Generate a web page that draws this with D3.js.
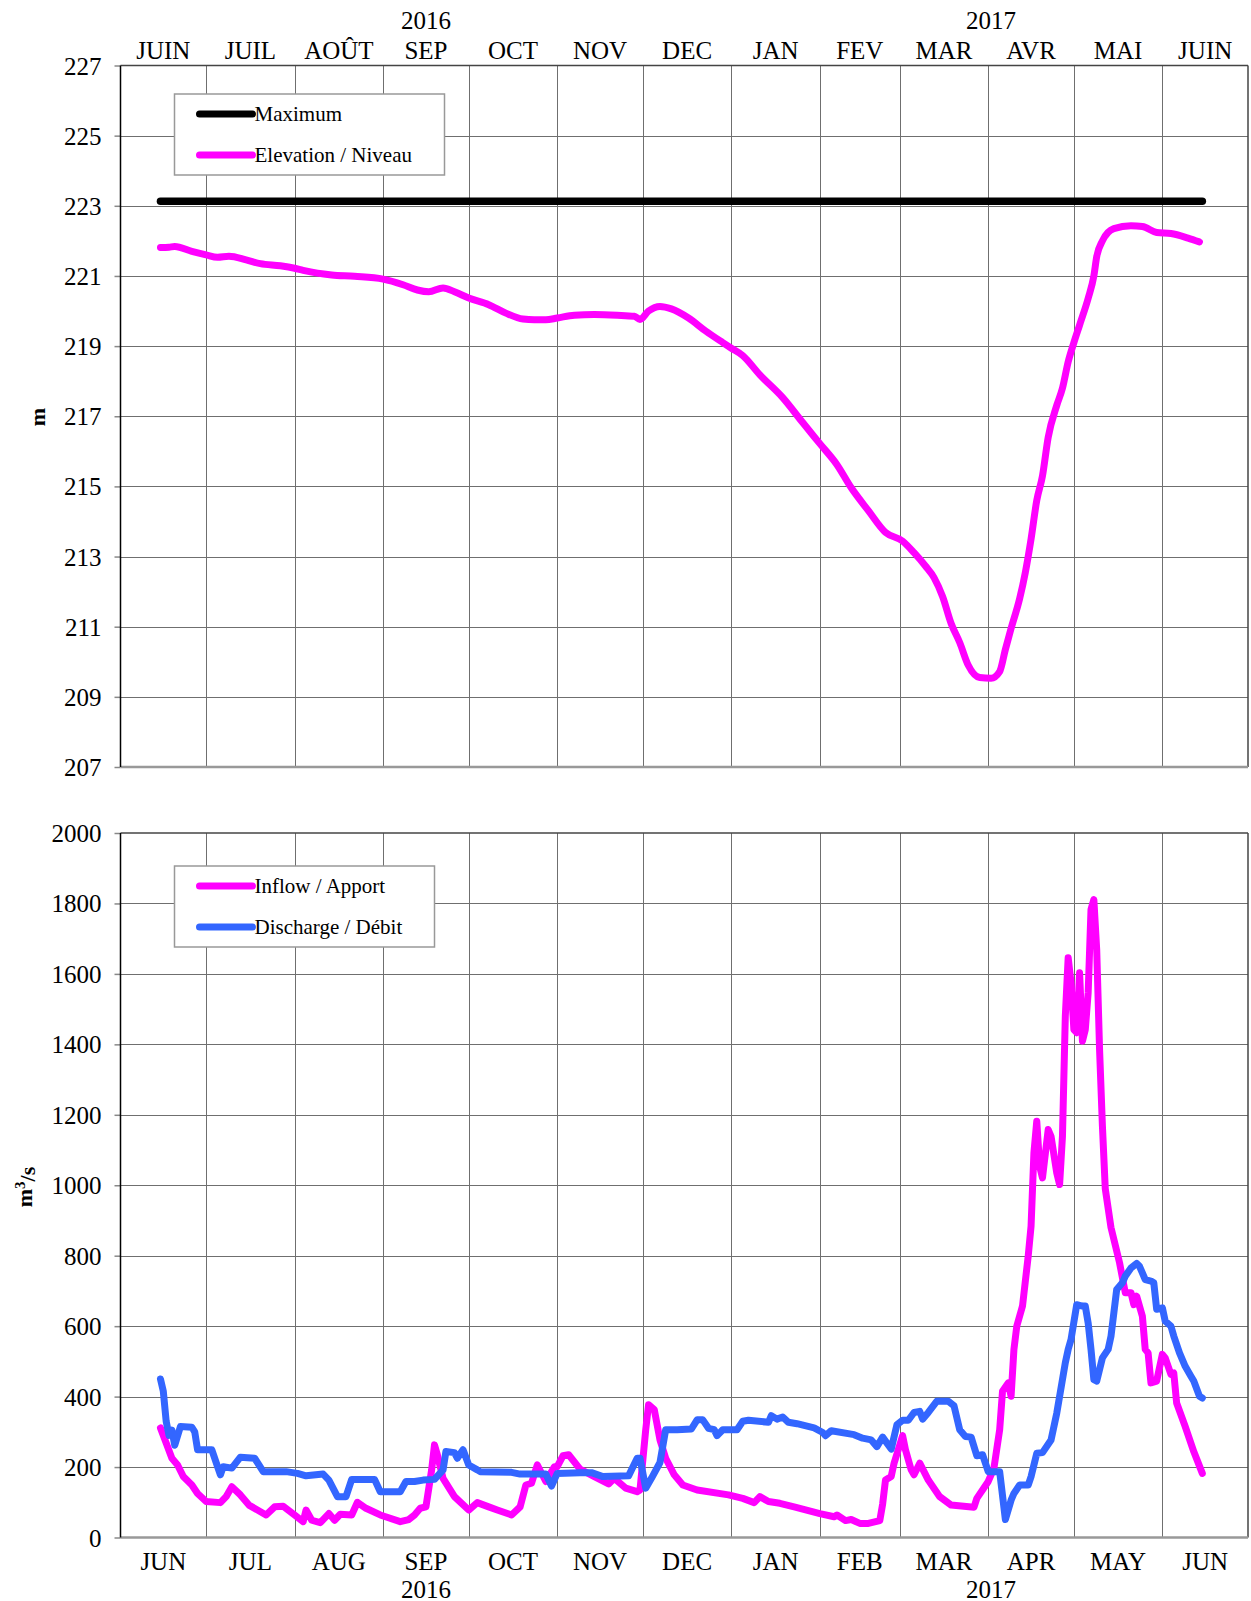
<!DOCTYPE html>
<html>
<head>
<meta charset="utf-8">
<script src="https://cdn.jsdelivr.net/npm/d3@7"></script>
<style>
  body { margin: 0; background: #fff; }
  text { font-family: "Liberation Serif", "Times New Roman", serif; fill: #000; }
</style>
</head>
<body>
<script>
// Month labels (top panel in French, bottom panel in English)
const topMonths = ["JUIN", "JUIL", "AOÛT", "SEP", "OCT", "NOV", "DEC", "JAN", "FEV", "MAR", "AVR", "MAI", "JUIN"];
const bottomMonths = ["JUN", "JUL", "AUG", "SEP", "OCT", "NOV", "DEC", "JAN", "FEB", "MAR", "APR", "MAY", "JUN"];
const yearLabels = ["2016", "2017"];
const yearLabelDates = ["2016-09-16", "2017-04-02"];

const elevTicks = [207, 209, 211, 213, 215, 217, 219, 221, 223, 225, 227];
const flowTicks = [0, 200, 400, 600, 800, 1000, 1200, 1400, 1600, 1800, 2000];

// Maximum level (m)
const maximum = [["2016-06-15", 223.13], ["2017-06-15", 223.13]];

// Elevation / Niveau (m)
const elevation = [
  ["2016-06-15", 221.81], ["2016-06-18", 221.82], ["2016-06-20", 221.84], ["2016-06-26", 221.70],
  ["2016-07-01", 221.60], ["2016-07-05", 221.53], ["2016-07-09", 221.56], ["2016-07-15", 221.46],
  ["2016-07-20", 221.35], ["2016-07-27", 221.29], ["2016-08-01", 221.22], ["2016-08-04", 221.16],
  ["2016-08-09", 221.08], ["2016-08-14", 221.03], ["2016-08-22", 220.99], ["2016-09-01", 220.91],
  ["2016-09-08", 220.75], ["2016-09-13", 220.60], ["2016-09-17", 220.55], ["2016-09-22", 220.66],
  ["2016-09-26", 220.55], ["2016-10-01", 220.37], ["2016-10-08", 220.18], ["2016-10-14", 219.94],
  ["2016-10-20", 219.77], ["2016-10-24", 219.75], ["2016-10-28", 219.75], ["2016-11-01", 219.80],
  ["2016-11-07", 219.88], ["2016-11-14", 219.90], ["2016-11-22", 219.88], ["2016-11-28", 219.85],
  ["2016-11-30", 219.76], ["2016-12-03", 220.00], ["2016-12-07", 220.13], ["2016-12-11", 220.06],
  ["2016-12-17", 219.80], ["2016-12-23", 219.43], ["2016-12-29", 219.10], ["2017-01-01", 218.94],
  ["2017-01-05", 218.73], ["2017-01-11", 218.18], ["2017-01-19", 217.53], ["2017-01-26", 216.82],
  ["2017-02-01", 216.22], ["2017-02-07", 215.62], ["2017-02-12", 214.96], ["2017-02-18", 214.31],
  ["2017-02-24", 213.69], ["2017-03-02", 213.44], ["2017-03-06", 213.11], ["2017-03-10", 212.73],
  ["2017-03-13", 212.40], ["2017-03-16", 211.86], ["2017-03-19", 211.09], ["2017-03-22", 210.55],
  ["2017-03-25", 209.90], ["2017-03-29", 209.55], ["2017-04-02", 209.53], ["2017-04-05", 209.72],
  ["2017-04-07", 210.35], ["2017-04-09", 210.95], ["2017-04-12", 211.80], ["2017-04-14", 212.55],
  ["2017-04-16", 213.50], ["2017-04-18", 214.60], ["2017-04-20", 215.30], ["2017-04-22", 216.40],
  ["2017-04-25", 217.31], ["2017-04-27", 217.80], ["2017-04-29", 218.55], ["2017-05-01", 219.10],
  ["2017-05-03", 219.60], ["2017-05-06", 220.36], ["2017-05-08", 221.00], ["2017-05-09", 221.55],
  ["2017-05-11", 222.00], ["2017-05-15", 222.35], ["2017-05-21", 222.43], ["2017-05-25", 222.41],
  ["2017-05-30", 222.24], ["2017-06-04", 222.21], ["2017-06-10", 222.08], ["2017-06-14", 221.97]
];

// Inflow / Apport (m3/s)
const inflow = [
  ["2016-06-15", 311], ["2016-06-17", 268], ["2016-06-19", 225], ["2016-06-21", 206], ["2016-06-23", 173],
  ["2016-06-26", 149], ["2016-06-28", 125], ["2016-07-01", 102], ["2016-07-06", 99], ["2016-07-08", 116],
  ["2016-07-10", 144], ["2016-07-13", 121], ["2016-07-16", 92], ["2016-07-22", 64], ["2016-07-25", 87],
  ["2016-07-28", 89], ["2016-08-01", 64], ["2016-08-04", 45], ["2016-08-05", 78], ["2016-08-07", 49],
  ["2016-08-10", 42], ["2016-08-13", 68], ["2016-08-15", 49], ["2016-08-17", 66], ["2016-08-21", 64],
  ["2016-08-23", 100], ["2016-08-26", 83], ["2016-08-31", 64], ["2016-09-07", 45], ["2016-09-10", 51],
  ["2016-09-12", 64], ["2016-09-14", 83], ["2016-09-16", 87], ["2016-09-18", 192], ["2016-09-19", 263],
  ["2016-09-20", 235], ["2016-09-22", 168], ["2016-09-26", 116], ["2016-10-01", 78], ["2016-10-04", 99],
  ["2016-10-08", 87], ["2016-10-11", 78], ["2016-10-16", 64], ["2016-10-19", 87], ["2016-10-21", 149],
  ["2016-10-23", 154], ["2016-10-25", 206], ["2016-10-28", 159], ["2016-10-31", 201], ["2016-11-01", 201],
  ["2016-11-03", 232], ["2016-11-05", 235], ["2016-11-09", 194], ["2016-11-14", 173], ["2016-11-19", 152],
  ["2016-11-21", 168], ["2016-11-25", 140], ["2016-11-29", 130], ["2016-11-30", 135], ["2016-12-02", 306],
  ["2016-12-03", 377], ["2016-12-05", 363], ["2016-12-07", 277], ["2016-12-09", 225], ["2016-12-12", 178],
  ["2016-12-15", 149], ["2016-12-20", 135], ["2016-12-31", 121], ["2017-01-05", 111], ["2017-01-09", 99],
  ["2017-01-11", 116], ["2017-01-14", 102], ["2017-01-18", 97], ["2017-01-23", 87], ["2017-02-01", 68],
  ["2017-02-06", 59], ["2017-02-07", 64], ["2017-02-10", 48], ["2017-02-12", 51], ["2017-02-15", 40],
  ["2017-02-18", 40], ["2017-02-22", 48], ["2017-02-23", 95], ["2017-02-24", 163], ["2017-02-26", 173],
  ["2017-02-27", 211], ["2017-03-02", 289], ["2017-03-03", 249], ["2017-03-05", 192], ["2017-03-06", 178],
  ["2017-03-08", 211], ["2017-03-11", 163], ["2017-03-15", 116], ["2017-03-19", 92], ["2017-03-27", 86],
  ["2017-03-28", 111], ["2017-04-01", 159], ["2017-04-03", 197], ["2017-04-05", 306], ["2017-04-06", 415],
  ["2017-04-08", 439], ["2017-04-09", 401], ["2017-04-10", 534], ["2017-04-11", 600], ["2017-04-13", 657],
  ["2017-04-15", 799], ["2017-04-16", 884], ["2017-04-17", 1092], ["2017-04-18", 1182], ["2017-04-19", 1054],
  ["2017-04-20", 1021], ["2017-04-22", 1158], ["2017-04-23", 1139], ["2017-04-25", 1035], ["2017-04-26", 1002],
  ["2017-04-27", 1139], ["2017-04-28", 1480], ["2017-04-29", 1646], ["2017-04-30", 1575], ["2017-05-01", 1442],
  ["2017-05-02", 1433], ["2017-05-03", 1603], ["2017-05-04", 1409], ["2017-05-05", 1442], ["2017-05-06", 1546],
  ["2017-05-07", 1783], ["2017-05-08", 1811], ["2017-05-09", 1669], ["2017-05-10", 1385], ["2017-05-11", 1168],
  ["2017-05-12", 990], ["2017-05-14", 880], ["2017-05-17", 780], ["2017-05-19", 695], ["2017-05-21", 695],
  ["2017-05-22", 661], ["2017-05-23", 685], ["2017-05-25", 628], ["2017-05-26", 534], ["2017-05-27", 524],
  ["2017-05-28", 439], ["2017-05-30", 444], ["2017-06-01", 520], ["2017-06-02", 510], ["2017-06-04", 463],
  ["2017-06-05", 467], ["2017-06-06", 382], ["2017-06-09", 315], ["2017-06-12", 244], ["2017-06-15", 182]
];

// Discharge / Débit (m3/s)
const discharge = [
  ["2016-06-15", 450], ["2016-06-16", 415], ["2016-06-17", 330], ["2016-06-18", 290], ["2016-06-19", 305],
  ["2016-06-20", 262], ["2016-06-22", 315], ["2016-06-26", 313], ["2016-06-27", 300], ["2016-06-28", 249],
  ["2016-07-03", 249], ["2016-07-05", 201], ["2016-07-06", 178], ["2016-07-07", 201], ["2016-07-10", 197],
  ["2016-07-13", 228], ["2016-07-18", 225], ["2016-07-21", 187], ["2016-07-29", 187], ["2016-08-02", 182],
  ["2016-08-05", 175], ["2016-08-11", 180], ["2016-08-13", 163], ["2016-08-16", 116], ["2016-08-19", 116],
  ["2016-08-21", 165], ["2016-08-29", 165], ["2016-08-31", 130], ["2016-09-07", 130], ["2016-09-09", 159],
  ["2016-09-12", 159], ["2016-09-15", 163], ["2016-09-19", 165], ["2016-09-22", 192], ["2016-09-23", 244],
  ["2016-09-26", 241], ["2016-09-27", 225], ["2016-09-29", 249], ["2016-10-01", 206], ["2016-10-04", 192],
  ["2016-10-05", 187], ["2016-10-16", 185], ["2016-10-19", 180], ["2016-10-28", 180], ["2016-10-30", 146],
  ["2016-11-01", 182], ["2016-11-09", 184], ["2016-11-13", 184], ["2016-11-17", 173], ["2016-11-26", 175],
  ["2016-11-29", 225], ["2016-11-30", 225], ["2016-12-02", 140], ["2016-12-04", 168], ["2016-12-07", 213],
  ["2016-12-09", 306], ["2016-12-13", 306], ["2016-12-18", 308], ["2016-12-20", 334], ["2016-12-22", 334],
  ["2016-12-24", 310], ["2016-12-26", 306], ["2016-12-27", 289], ["2016-12-29", 306], ["2017-01-03", 306],
  ["2017-01-05", 330], ["2017-01-07", 333], ["2017-01-14", 327], ["2017-01-15", 346], ["2017-01-17", 336],
  ["2017-01-19", 342], ["2017-01-21", 327], ["2017-01-24", 323], ["2017-01-30", 311], ["2017-02-02", 298],
  ["2017-02-03", 289], ["2017-02-05", 303], ["2017-02-13", 292], ["2017-02-16", 282], ["2017-02-19", 277],
  ["2017-02-21", 258], ["2017-02-23", 285], ["2017-02-26", 251], ["2017-02-28", 320], ["2017-03-02", 333],
  ["2017-03-04", 333], ["2017-03-06", 355], ["2017-03-08", 358], ["2017-03-09", 336], ["2017-03-11", 355],
  ["2017-03-14", 387], ["2017-03-18", 387], ["2017-03-20", 374], ["2017-03-22", 306], ["2017-03-24", 287],
  ["2017-03-26", 285], ["2017-03-28", 232], ["2017-03-30", 235], ["2017-04-01", 187], ["2017-04-05", 187],
  ["2017-04-07", 51], ["2017-04-09", 106], ["2017-04-10", 125], ["2017-04-12", 149], ["2017-04-15", 149],
  ["2017-04-16", 173], ["2017-04-18", 239], ["2017-04-20", 241], ["2017-04-23", 277], ["2017-04-25", 353],
  ["2017-04-28", 496], ["2017-04-29", 534], ["2017-04-30", 562], ["2017-05-02", 661], ["2017-05-04", 657],
  ["2017-05-05", 657], ["2017-05-06", 609], ["2017-05-07", 534], ["2017-05-08", 448], ["2017-05-09", 444],
  ["2017-05-11", 510], ["2017-05-13", 534], ["2017-05-14", 571], ["2017-05-16", 704], ["2017-05-18", 723],
  ["2017-05-19", 742], ["2017-05-21", 765], ["2017-05-23", 778], ["2017-05-24", 770], ["2017-05-26", 732],
  ["2017-05-28", 728], ["2017-05-29", 723], ["2017-05-30", 648], ["2017-06-01", 652], ["2017-06-02", 614],
  ["2017-06-04", 600], ["2017-06-05", 572], ["2017-06-07", 524], ["2017-06-09", 486], ["2017-06-11", 458],
  ["2017-06-12", 444], ["2017-06-14", 401], ["2017-06-15", 396]
];

const parse = d3.timeParse("%Y-%m-%d");
const MAGENTA = "#ff00ff";
const BLUE = "#3366ff";
const SERIF = "Liberation Serif, Times New Roman, serif";

const svg = d3.select("body").append("svg").attr("width", 1251).attr("height", 1601);

const x = d3.scaleTime()
  .domain([parse("2016-06-01"), parse("2017-07-01")])
  .range([120.5, 1248]);

const months = d3.timeMonth.range(x.domain()[0], x.domain()[1]);

// Draw one panel: grid, axes, month labels; returns the y scale
function drawPanel(g, top, bottom, domain, ticks, monthNames, labelsAbove) {
  const y = d3.scaleLinear().domain(domain).range([bottom, top]);
  const [xl, xr] = x.range();

  // horizontal grid lines
  g.selectAll(".hgrid")
    .data(ticks.slice(1, -1))
    .join("line")
    .attr("x1", xl).attr("x2", xr)
    .attr("y1", (d) => Math.round(y(d)) + 0.5)
    .attr("y2", (d) => Math.round(y(d)) + 0.5)
    .style("stroke", "#6f6f6f").style("stroke-width", 1);

  // vertical grid lines at each month start
  g.selectAll(".vgrid")
    .data(months.slice(1))
    .join("line")
    .attr("x1", (d) => Math.round(x(d)) + 0.5)
    .attr("x2", (d) => Math.round(x(d)) + 0.5)
    .attr("y1", top).attr("y2", bottom)
    .style("stroke", "#6f6f6f").style("stroke-width", 1);

  // frame
  g.append("line").attr("x1", xl).attr("x2", xr).attr("y1", top).attr("y2", top)
    .style("stroke", "#444").style("stroke-width", 1.5);
  g.append("line").attr("x1", xr).attr("x2", xr).attr("y1", top).attr("y2", bottom)
    .style("stroke", "#444").style("stroke-width", 1.5);
  g.append("line").attr("x1", xl).attr("x2", xr).attr("y1", bottom).attr("y2", bottom)
    .style("stroke", "#999").style("stroke-width", 2.5);

  // y axis
  const axis = g.append("g")
    .attr("transform", `translate(${xl},0)`)
    .call(d3.axisLeft(y).tickValues(ticks).tickSize(6).tickPadding(13).tickFormat(d3.format("d")))
    .attr("font-family", SERIF)
    .attr("font-size", 25);
  axis.select(".domain").remove();
  axis.selectAll(".tick line").style("stroke", "#888").style("stroke-width", 1.5);
  axis.selectAll(".tick text").attr("dy", "0.34em");
  g.append("line").attr("x1", xl).attr("x2", xl).attr("y1", top).attr("y2", bottom)
    .style("stroke", "#000").style("stroke-width", 1.5);

  // month labels, centred in each month
  const monthY = labelsAbove ? top - 7 : bottom + 32;
  g.selectAll(".month")
    .data(months)
    .join("text")
    .attr("x", (d) => (x(d) + x(d3.timeMonth.offset(d, 1))) / 2)
    .attr("y", monthY)
    .attr("text-anchor", "middle")
    .style("font-size", "25px")
    .text((d, i) => monthNames[i]);

  const yearY = labelsAbove ? top - 37 : bottom + 60;
  g.selectAll(".year")
    .data(yearLabels)
    .join("text")
    .attr("x", (d, i) => x(parse(yearLabelDates[i])))
    .attr("y", yearY)
    .attr("text-anchor", "middle")
    .style("font-size", "25px")
    .text((d) => d);

  return y;
}

function drawSeries(g, y, data, color, width, curve) {
  const line = d3.line()
    .x((d) => x(parse(d[0])))
    .y((d) => y(d[1]))
    .curve(curve);
  g.append("path")
    .datum(data)
    .attr("d", line)
    .style("fill", "none")
    .style("stroke", color)
    .style("stroke-width", width)
    .style("stroke-linejoin", "round")
    .style("stroke-linecap", "round");
}

function drawLegend(g, left, top, width, height, items) {
  g.append("rect")
    .attr("x", left).attr("y", top).attr("width", width).attr("height", height)
    .style("fill", "#fff").style("stroke", "#999").style("stroke-width", 1.5);
  items.forEach((item, i) => {
    const ly = top + 20 + i * 41;
    g.append("line")
      .attr("x1", left + 25).attr("x2", left + 78).attr("y1", ly).attr("y2", ly)
      .style("stroke", item.color).style("stroke-width", 7).style("stroke-linecap", "round");
    g.append("text")
      .attr("x", left + 80).attr("y", ly + 7)
      .style("font-size", "21px")
      .text(item.label);
  });
}

// Top panel: elevation
const gTop = svg.append("g");
const yTop = drawPanel(gTop, 65.5, 767, [207, 227], elevTicks, topMonths, true);
drawSeries(gTop, yTop, maximum, "#000", 7.5, d3.curveLinear);
drawSeries(gTop, yTop, elevation, MAGENTA, 7, d3.curveMonotoneX);
drawLegend(gTop, 174.5, 94, 270, 81, [
  { label: "Maximum", color: "#000" },
  { label: "Elevation / Niveau", color: MAGENTA },
]);
gTop.append("text")
  .attr("transform", "translate(45,417) rotate(-90)")
  .attr("text-anchor", "middle")
  .style("font-size", "22px").style("font-weight", "bold")
  .text("m");

// Bottom panel: flows
const gBot = svg.append("g");
const yBot = drawPanel(gBot, 833, 1537.5, [0, 2000], flowTicks, bottomMonths, false);
drawSeries(gBot, yBot, inflow, MAGENTA, 7, d3.curveLinear);
drawSeries(gBot, yBot, discharge, BLUE, 7, d3.curveLinear);
drawLegend(gBot, 174.5, 866, 260, 81, [
  { label: "Inflow / Apport", color: MAGENTA },
  { label: "Discharge / Débit", color: BLUE },
]);
const unit = gBot.append("text")
  .attr("transform", "translate(32,1187) rotate(-90)")
  .attr("text-anchor", "middle")
  .style("font-size", "22px").style("font-weight", "bold");
unit.append("tspan").text("m");
unit.append("tspan").attr("dy", "-0.45em").style("font-size", "15px").text("3");
unit.append("tspan").attr("dy", "0.45em").text("/s");
</script>
</body>
</html>
